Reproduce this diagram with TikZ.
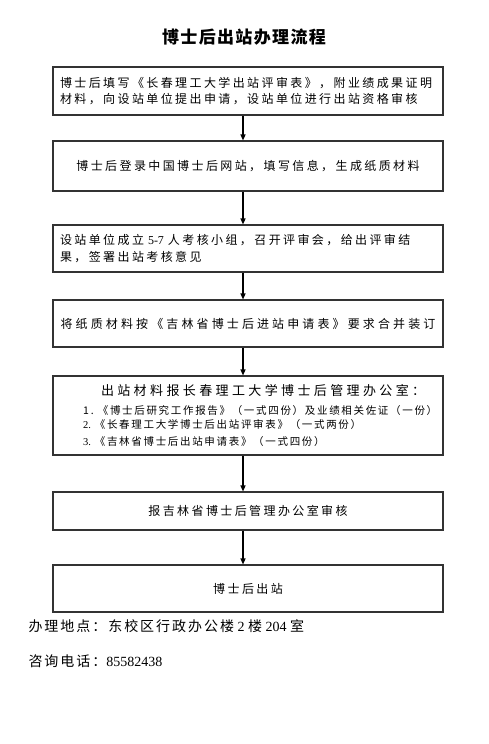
\documentclass[tikz,border=0pt]{standalone}
\usepackage{fontspec}
\setmainfont{Liberation Serif}
\newfontfamily\cjk[LetterSpace=20]{Noto Sans CJK SC}
\newfontfamily\cjkwide[LetterSpace=26]{Noto Sans CJK SC}
\newfontfamily\cjkhead[LetterSpace=26]{Noto Sans CJK SC}
\newfontfamily\cjkitem[LetterSpace=16]{Noto Sans CJK SC}
\newfontfamily\cjktitle[LetterSpace=8]{Noto Sans CJK SC}
\newfontfamily\cjkfoot[LetterSpace=14]{Noto Sans CJK SC}
\usetikzlibrary{arrows.meta,positioning}

\begin{document}
\begin{tikzpicture}[x=1pt, y=-1pt,
    stepbox/.style={rectangle, draw=black!80, line width=1.1pt, minimum width=390pt,
      inner sep=0pt, font=\fontsize{12}{16.5}\selectfont\cjk},
    arr/.style={-{Triangle[length=6pt, width=5pt]}, line width=1.2pt},
    titl/.style={font=\fontsize{17}{20}\selectfont\cjktitle\bfseries},
    foot/.style={anchor=west, font=\fontsize{14}{16}\selectfont}
  ]
  \useasboundingbox (0,0) rectangle (489,744);

  %% Column position (x-coord)
  \def\xB{248}

  %% Title
  \node[titl] (title) at (244, 37) {博士后出站办理流程};

  %% Steps
  \node[stepbox, minimum height=48pt, text width=376pt, align=left] (b1) at (\xB, 91)
    {博士后填写《长春理工大学出站评审表》，附业绩成果证明\\
     材料，向设站单位提出申请，设站单位进行出站资格审核};
  \node[stepbox, minimum height=50pt] (b2) at (\xB, 166)
    {博士后登录中国博士后网站，填写信息，生成纸质材料};
  \node[stepbox, minimum height=47pt, text width=376pt, align=left] (b3) at (\xB, 248.5)
    {设站单位成立{\rmfamily\ 5-7\ }人考核小组，召开评审会，给出评审结\\
     果，签署出站考核意见};
  \node[stepbox, minimum height=47pt, font=\fontsize{12}{16.5}\selectfont\cjkwide] (b4) at (\xB, 323.5)
    {将纸质材料按《吉林省博士后进站申请表》要求合并装订};
  \node[stepbox, minimum height=79pt, text width=376pt, align=left] (b5) at (\xB, 415.5)
    {\hspace*{41pt}{\fontsize{13}{17}\selectfont\cjkhead 出站材料报长春理工大学博士后管理办公室：}\\[4pt]
     \fontsize{10.5}{14.5}\selectfont
     \hspace*{23pt}1.\ \cjkitem《博士后研究工作报告》（一式四份）及业绩相关佐证（一份）\\
     \hspace*{23pt}{\rmfamily 2.\ }《长春理工大学博士后出站评审表》（一式两份）\\
     \hspace*{23pt}{\rmfamily 3.\ }《吉林省博士后出站申请表》（一式四份）};
  \node[stepbox, minimum height=38pt] (b6) at (\xB, 511)
    {报吉林省博士后管理办公室审核};
  \node[stepbox, minimum height=47pt] (b7) at (\xB, 588.5)
    {博士后出站};

  %% Connections
  \foreach \s/\t in {b1/b2, b2/b3, b3/b4, b4/b5, b5/b6, b6/b7}{
    \draw[arr] ([xshift=-5pt]\s.south) -- ([xshift=-5pt]\t.north);
  }

  %% Notes
  \node[foot] (place) at (25, 626)
    {{\cjkfoot 办理地点：东校区行政办公楼}\ 2\ {\cjkfoot 楼}\ 204\ {\cjkfoot 室}};
  \node[foot] (phone) at (25, 661)
    {{\cjkfoot 咨询电话：}85582438};

\end{tikzpicture}
\end{document}
